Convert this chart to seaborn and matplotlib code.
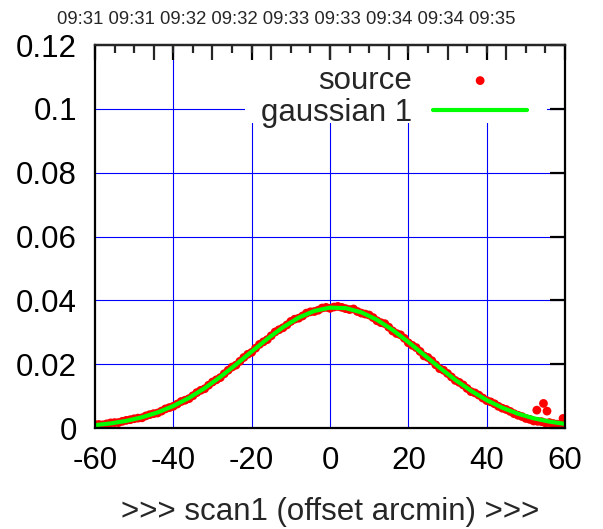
import numpy as np
import pandas as pd
import matplotlib
matplotlib.use('Agg')
import matplotlib.pyplot as plt
import seaborn as sns
from matplotlib.patches import Rectangle
from matplotlib.ticker import FormatStrFormatter

# source points (offset arcmin, amplitude)
src_x = [-60, -58, -56, -54, -52, -50, -48, -46, -44, -42, -40, -38, -36, -34, -32, -30,
         -28, -26, -24, -22, -20, -18, -16, -14, -12, -10, -8, -6, -4, -2, 0, 2, 4, 6, 8,
         10, 12, 14, 16, 18, 20, 22, 24, 26, 28, 30, 32, 34, 36, 38, 40, 42, 44, 46, 48,
         50, 52, 54, 56, 58, 60,
         -59, -57, -55, -53, -51, -49, -47, -45, -43, -41, -39, -37, -35, -33, -31, -29,
         -27, -25, -23, -21, -19, -17, -15, -13, -11, -9, -7, -5, -3, -1, 1, 3, 5, 7, 9,
         11, 13, 15, 17, 19, 21, 23, 25, 27, 29, 31, 33, 35, 37, 39, 41, 43, 45, 47, 49,
         51, 53, 55, 57, 59,
         52.8, 54.5, 55.4, 59.5, -59.5]
src_y = [0.0011, 0.0010, 0.0016, 0.0017, 0.0024, 0.0029, 0.0032, 0.0042, 0.0047, 0.0060,
         0.0068, 0.0083, 0.0092, 0.0111, 0.0123, 0.0144, 0.0158, 0.0181, 0.0197, 0.0221,
         0.0237, 0.0262, 0.0277, 0.0301, 0.0314, 0.0334, 0.0344, 0.0360, 0.0365, 0.0376,
         0.0375, 0.0381, 0.0374, 0.0373, 0.0360, 0.0354, 0.0336, 0.0327, 0.0304, 0.0292,
         0.0267, 0.0252, 0.0226, 0.0211, 0.0186, 0.0171, 0.0149, 0.0135, 0.0114, 0.0103,
         0.0086, 0.0076, 0.0062, 0.0052, 0.0040, 0.0030, 0.0022, 0.0020, 0.0017, 0.0012,
         0.0022,
         0.0011, 0.0013, 0.0017, 0.0021, 0.0026, 0.0031, 0.0038, 0.0045, 0.0053, 0.0064,
         0.0075, 0.0087, 0.0101, 0.0118, 0.0134, 0.0151, 0.0170, 0.0191, 0.0209, 0.0231,
         0.0250, 0.0270, 0.0289, 0.0308, 0.0323, 0.0341, 0.0351, 0.0364, 0.0369, 0.0378,
         0.0379, 0.0378, 0.0371, 0.0365, 0.0357, 0.0346, 0.0330, 0.0316, 0.0296, 0.0281,
         0.0259, 0.0240, 0.0221, 0.0198, 0.0181, 0.0160, 0.0143, 0.0124, 0.0110, 0.0094,
         0.0082, 0.0068, 0.0058, 0.0045, 0.0036, 0.0027, 0.0021, 0.0016, 0.0014, 0.0010,
         0.0056, 0.0077, 0.0053, 0.0030, 0.0004]

# gaussian 1 fit
fit_x = [-60, -56, -52, -48, -44, -40, -36, -32, -28, -24, -20, -16, -12, -8, -4, 0,
         4, 8, 12, 16, 20, 24, 28, 32, 36, 40, 44, 48, 52, 56, 60]
fit_y = [0.00090, 0.00144, 0.00224, 0.00336, 0.00489, 0.00690, 0.00943, 0.01248, 0.01601,
         0.01989, 0.02395, 0.02793, 0.03157, 0.03458, 0.03669, 0.03772, 0.03757, 0.03625,
         0.03390, 0.03071, 0.02696, 0.02293, 0.01889, 0.01508, 0.01167, 0.00874, 0.00635,
         0.00447, 0.00304, 0.00201, 0.00129]

x_ticks = [-60, -40, -20, 0, 20, 40, 60]
y_ticks = [0, 0.02, 0.04, 0.06, 0.08, 0.1, 0.12]
time_labels = ['09:31', '09:31', '09:32', '09:32', '09:33', '09:33', '09:34', '09:34', '09:35']

sns.set_style("white")
plt.rcParams['font.family'] = ['Liberation Sans', 'DejaVu Sans']
plt.rcParams['axes.unicode_minus'] = False

fig = plt.figure(figsize=(6.03, 5.29), dpi=100)
ax = fig.add_axes([0.1575, 0.1909, 0.7795, 0.724])

src = pd.DataFrame({'x': src_x, 'y': src_y})
fit = pd.DataFrame({'x': fit_x, 'y': fit_y})

sns.scatterplot(data=src, x='x', y='y', ax=ax, color='#ff0000', s=40, edgecolor='none',
                label='source', zorder=3)
sns.lineplot(data=fit, x='x', y='y', ax=ax, color='#00ff00', linewidth=3,
             label='gaussian 1', zorder=4)

ax.set_xlim(-60, 60)
ax.set_ylim(0, 0.12)
ax.set_xticks(x_ticks)
ax.set_yticks(y_ticks)
ax.yaxis.set_major_formatter(FormatStrFormatter('%g'))
ax.set_xlabel('>>> scan1 (offset arcmin) >>>', fontsize=22.5, labelpad=15)
ax.set_ylabel('')

# blue grid drawn as lines so that the key background can hide it while ticks stay on top
for xv in x_ticks[1:-1]:
    ax.axvline(xv, color='#0000ff', linewidth=0.8, zorder=0.5)
for yv in y_ticks[1:-1]:
    ax.axhline(yv, color='#0000ff', linewidth=0.8, zorder=0.5)

for sp in ax.spines.values():
    sp.set_color('black')
    sp.set_linewidth(1.6)
    sp.set_zorder(6)
ax.xaxis.set_zorder(6)
ax.yaxis.set_zorder(6)

ax.tick_params(axis='both', which='major', direction='in', length=11, width=1.6,
               labelsize=22.5, pad=13, top=True, right=True, colors='black')

# top axis with time ticks
sec = ax.secondary_xaxis('top')
sec.set_xticks(range(-45, 46, 15))
sec.set_xticks(range(-55, 56, 5), minor=True)
sec.tick_params(axis='x', which='major', direction='in', length=11, width=1.6,
                labeltop=False)
sec.tick_params(axis='x', which='minor', direction='in', length=5.5, width=1.6)
sec.spines['top'].set_linewidth(1.6)
sec.set_zorder(7)

fig.text(286 / 603, 1 - 20 / 529, ' '.join(time_labels), ha='center', va='center',
         fontsize=13.3)

# opaque key background
ax.add_patch(Rectangle((0.319, 0.796), 0.643, 0.204, transform=ax.transAxes,
                       facecolor='white', edgecolor='none', zorder=0.8))

leg = ax.legend(loc='upper right', bbox_to_anchor=(0.9617, 0.998), markerfirst=False,
                fontsize=22.5, frameon=False, handlelength=3.0, handletextpad=0.67,
                labelspacing=0.06, borderaxespad=0.0, borderpad=0.64)
leg.set_zorder(5)

fig.savefig('out.png', dpi=100)
